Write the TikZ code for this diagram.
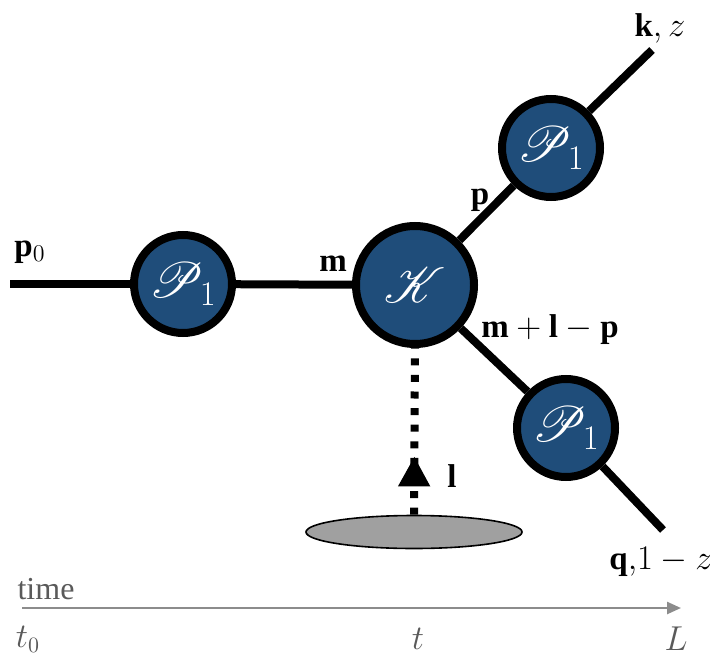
\documentclass[tikz,border=0pt]{standalone}
\usepackage{fontspec}
\setmainfont{Liberation Serif}
\usepackage{amsmath}
\usepackage{mathrsfs}
\usetikzlibrary{shapes.geometric, arrows.meta, decorations.markings}

\definecolor{blobblue}{HTML}{1F4D7A}
\definecolor{axisgray}{HTML}{8C8C8C}
\definecolor{labelgray}{HTML}{5A5A5A}
\definecolor{sourcegray}{HTML}{A0A0A0}

\tikzstyle{blob}  = [circle, draw=black, line width=4pt, fill=blobblue, text=white,
                     inner sep=0pt, font=\fontsize{23}{27}\selectfont]
\tikzstyle{leg}   = [line width=4pt, black]
\tikzstyle{lab}   = [inner sep=0pt, font=\fontsize{16.5}{19}\selectfont]
\tikzstyle{tlab}  = [inner sep=0pt, text=labelgray, font=\fontsize{16}{19}\selectfont]
\tikzstyle{exch}  = [line width=4pt, dash pattern=on 3.5pt off 4.8pt,
                     postaction={decorate}, decoration={markings,
                     mark=at position 0.35 with {\arrow{Triangle[width=15pt,length=15pt]}}}]
\tikzstyle{axis}  = [line width=1.2pt, draw=axisgray,
                     -{Triangle[length=7pt,width=6pt,fill=axisgray]}]

\begin{document}
\begin{tikzpicture}[x=0.5pt, y=-0.5pt]
  \useasboundingbox (0,0) rectangle (710,657);

  % propagators and kernel
  \node[blob, minimum size=49pt] (pin) at (183,284) {$\mathscr{P}_1$};
  \node[blob, minimum size=59pt] (kern) at (415,285) {$\mathscr{K}$};
  \node[blob, minimum size=49pt] (pup) at (551,148) {$\mathscr{P}_1$};
  \node[blob, minimum size=49pt] (pdn) at (566,428) {$\mathscr{P}_1$};

  \coordinate (pstart) at (10,284);
  \coordinate (kend) at (652,50);
  \coordinate (qend) at (663,530);

  % medium source
  \node[ellipse, draw=black, line width=0.8pt, fill=sourcegray,
        minimum width=108pt, minimum height=16.5pt, inner sep=0pt] (src) at (414,532) {};

  \draw[leg] (pstart) -- (pin);
  \draw[leg] (pin) -- (kern);
  \draw[leg] (kern) -- (pup);
  \draw[leg] (pup) -- (kend);
  \draw[leg] (kern) -- (pdn);
  \draw[leg] (pdn) -- (qend);
  \draw[exch] (src.north) -- (kern.south);

  % momenta
  \node[lab] (p0lab) at (30,252) {$\mathbf{p}_0$};
  \node[lab] (mlab) at (333,264) {$\mathbf{m}$};
  \node[lab] (plab) at (480,200) {$\mathbf{p}$};
  \node[lab] (mlplab) at (550,330) {$\mathbf{m}+\mathbf{l}-\mathbf{p}$};
  \node[lab] (kzlab) at (660,28) {$\mathbf{k},z$};
  \node[lab] (qzlab) at (661,562) {$\mathbf{q}{,}1-z$};
  \node[lab] (llab) at (452,476) {$\mathbf{l}$};

  % time axis
  \coordinate (tbeg) at (22,608);
  \coordinate (tfin) at (681,608);
  \draw[axis] (tbeg) -- (tfin);
  \node[tlab] (timelab) at (46,589) {time};
  \node[tlab] (t0lab) at (28,639) {$t_0$};
  \node[tlab] (tlab) at (418,639) {$t$};
  \node[tlab] (Llab) at (676,639) {$L$};
\end{tikzpicture}
\end{document}
